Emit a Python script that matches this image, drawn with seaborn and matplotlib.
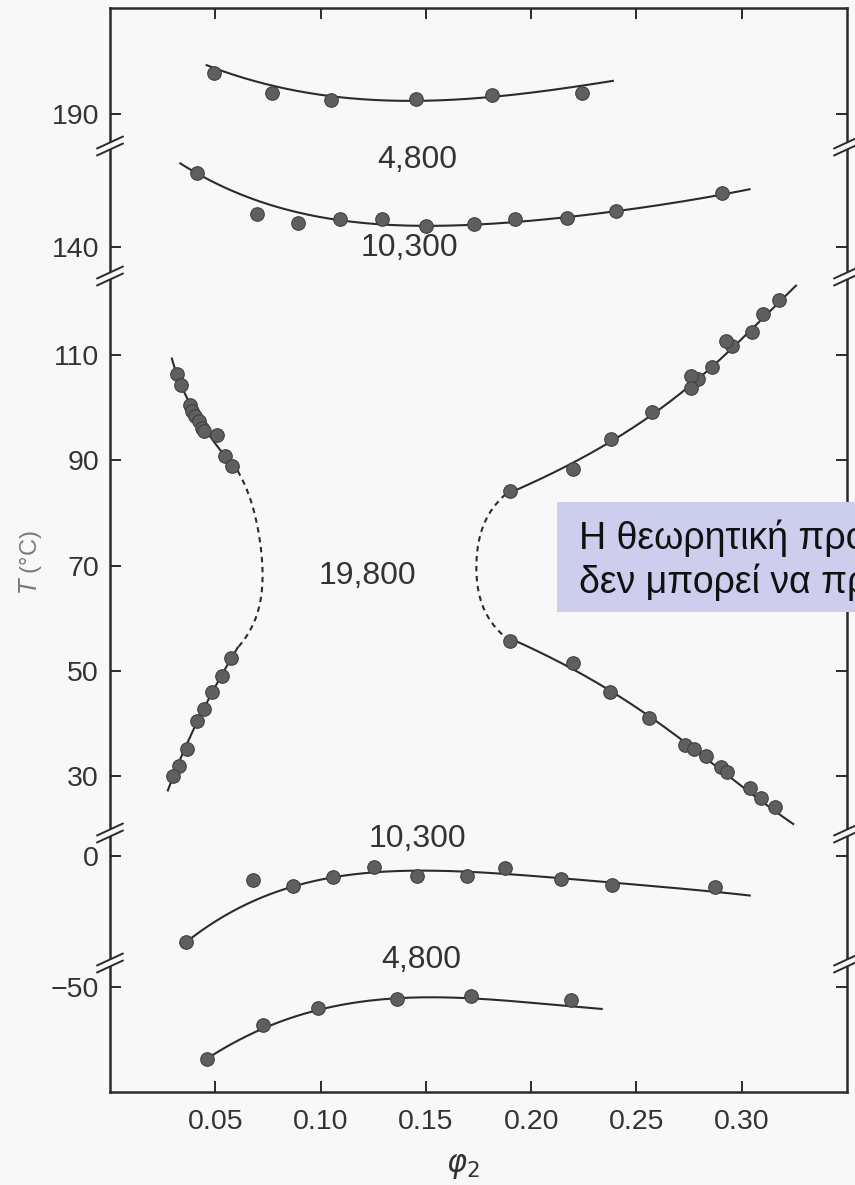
import numpy as np
import matplotlib
matplotlib.use("Agg")
import matplotlib.pyplot as plt
from matplotlib.lines import Line2D
from matplotlib.patches import Polygon, Rectangle
import seaborn as sns

# ---------------- measured cloud points: phi2 vs T (°C) ----------------
# M = 4,800 (upper critical branch)
phi_4800_hi = [0.0492, 0.0768, 0.1049, 0.1455, 0.1812, 0.2241]
T_4800_hi = [197.8, 194.0, 192.7, 192.8, 193.6, 194.0]
# M = 10,300 (upper critical branch)
phi_10300_hi = [0.0411, 0.0697, 0.0891, 0.1092, 0.1293, 0.1502, 0.1731,
                0.1921, 0.2169, 0.2403, 0.2908]
T_10300_hi = [154.0, 146.3, 144.6, 145.3, 145.3, 144.0, 144.3,
              145.3, 145.6, 146.8, 150.3]
# M = 19,800 (hourglass, left and right branches)
phi_19800_left = [0.0319, 0.0335, 0.0379, 0.0391, 0.0406, 0.0422, 0.0438,
                  0.0446, 0.0506, 0.0545, 0.0581,
                  0.0573, 0.0530, 0.0483, 0.0446, 0.0411, 0.0364, 0.0327,
                  0.0298]
T_19800_left = [106.3, 104.3, 100.5, 99.4, 98.4, 97.5, 96.2,
                95.5, 94.8, 90.9, 89.0,
                52.4, 49.0, 45.9, 42.7, 40.4, 35.1, 32.0, 30.1]
phi_19800_right = [0.3178, 0.3101, 0.3050, 0.2952, 0.2923, 0.2857, 0.2793,
                   0.2757, 0.2761, 0.2574, 0.2380, 0.2201, 0.1898,
                   0.1898, 0.2201, 0.2375, 0.2558, 0.2730, 0.2773, 0.2832,
                   0.2904, 0.2931, 0.3038, 0.3090, 0.3159]
T_19800_right = [120.4, 117.7, 114.4, 111.7, 112.7, 107.8, 105.4,
                 106.0, 103.8, 99.1, 94.1, 88.4, 84.2,
                 55.7, 51.4, 45.9, 41.0, 35.9, 35.1, 33.9,
                 31.8, 30.7, 27.7, 25.8, 24.1]
# M = 10,300 (lower critical branch)
phi_10300_lo = [0.0359, 0.0677, 0.0867, 0.1058, 0.1253, 0.1459, 0.1696,
                0.1878, 0.2141, 0.2384, 0.2873]
T_10300_lo = [-16.3, -4.5, -5.7, -3.9, -2.0, -3.8, -3.8,
              -2.3, -4.4, -5.5, -5.8]
# M = 4,800 (lower critical branch)
phi_4800_lo = [0.0463, 0.0727, 0.0986, 0.1364, 0.1716, 0.2191]
T_4800_lo = [-63.7, -57.2, -54.0, -52.3, -51.7, -52.5]

# ---------------- drawn coexistence curves (vertices of the fits) ----------------
fit_4800_hi_phi = [0.0454, 0.0768, 0.105, 0.145, 0.180, 0.2146, 0.2393]
fit_4800_hi_T = [199.4, 195.2, 193.4, 192.6, 193.2, 194.6, 196.4]
fit_10300_hi_phi = [0.0330, 0.0907, 0.120, 0.150, 0.180, 0.2146, 0.2403, 0.2908, 0.3042]
fit_10300_hi_T = [156.0, 146.4, 144.6, 144.1, 144.4, 145.45, 146.9, 150.0, 151.0]
fit_10300_lo_phi = [0.0359, 0.0589, 0.0867, 0.1058, 0.1463, 0.1701, 0.1939,
                    0.2141, 0.2336, 0.2873, 0.3043]
fit_10300_lo_T = [-16.3, -10.6, -5.8, -3.9, -2.8, -2.85, -3.6,
                  -4.4, -4.9, -6.5, -7.7]
fit_4800_lo_phi = [0.0463, 0.0727, 0.0986, 0.1364, 0.1716, 0.2191, 0.2340]
fit_4800_lo_T = [-63.7, -57.5, -54.3, -52.5, -52.0, -53.3, -54.4]

# 19,800: solid pieces follow the data, dashed pieces join them through the apex
fitL_up_T = [109.5, 104.3, 99.4, 94.8, 90.9, 87.8]
fitL_up_phi = [0.0295, 0.0335, 0.0391, 0.0480, 0.0545, 0.0608]
fitL_dash_T = [87.8, 83.6, 78.6, 73.5, 69.1, 67.2, 61.5, 57.7, 54.6]
fitL_dash_phi = [0.0608, 0.0660, 0.0692, 0.0716, 0.0724, 0.0724, 0.0708, 0.0660, 0.0613]
fitL_lo_T = [54.6, 52.4, 45.9, 40.4, 35.1, 30.1, 27.1]
fitL_lo_phi = [0.0613, 0.0573, 0.0483, 0.0411, 0.0364, 0.0298, 0.0272]

fitR_up_T = [123.3, 114.6, 105.3, 99.2, 94.0, 88.6, 84.2]
fitR_up_phi = [0.3257, 0.3050, 0.2793, 0.2574, 0.2380, 0.2201, 0.1898]
fitR_dash_T = [84.2, 79.5, 74.5, 69.5, 64.5, 60.0, 55.7]
fitR_dash_phi = [0.1898, 0.1795, 0.1752, 0.1740, 0.1752, 0.1800, 0.1898]
fitR_lo_T = [55.7, 51.4, 45.9, 41.0, 35.9, 30.7, 24.1, 20.8]
fitR_lo_phi = [0.1898, 0.2201, 0.2375, 0.2558, 0.2730, 0.2931, 0.3159, 0.3228]

# ---------------- axis layout: five stacked temperature windows ----------------
y_windows = [(183.9, 210.1), (134.5, 159.2), (19.2, 125.0), (-20.3, 4.37), (-69.9, -45.4)]
y_ticks = [[190], [140], [110, 90, 70, 50, 30], [0], [-50]]
window_px = [138, 130, 557, 130, 129]
x_ticks = [0.05, 0.10, 0.15, 0.20, 0.25, 0.30]
x_tick_labels = ["0.05", "0.10", "0.15", "0.20", "0.25", "0.30"]

BG = "#f8f8f8"
INK = "#2b2b2b"
DOT = "#5f5f5f"

sns.set_theme(style="ticks")
plt.rcParams["font.family"] = ["Liberation Sans", "DejaVu Sans"]
plt.rcParams["axes.edgecolor"] = INK
plt.rcParams["xtick.color"] = INK
plt.rcParams["ytick.color"] = INK

W, H = 855, 1185
fig = plt.figure(figsize=(W / 100, H / 100), dpi=100, facecolor=BG)
L, R, TOP, BOT = 110, 847, 8, 1092
gs = fig.add_gridspec(5, 1, height_ratios=window_px, hspace=0,
                      left=L / W, right=R / W, top=1 - TOP / H, bottom=1 - BOT / H)
axes = [fig.add_subplot(gs[i]) for i in range(5)]


def poly_curve(x, y, deg, n=300):
    c = np.polyfit(x, y, deg)
    xs = np.linspace(min(x), max(x), n)
    return xs, np.polyval(c, xs)


line_kw = dict(color=INK, lw=1.5, solid_capstyle="butt")
dash_kw = dict(color=INK, lw=1.5, ls=(0, (2.6, 2.2)))
dot_kw = dict(s=95, color=DOT, edgecolor="#3f3f3f", linewidth=0.8, zorder=3)

for i, ax in enumerate(axes):
    ax.set_facecolor("none")
    ax.set_xlim(0, 0.35)
    ax.set_ylim(*y_windows[i])
    ax.set_yticks(y_ticks[i])
    ax.set_yticklabels([f"{v}".replace("-", "\u2212") for v in y_ticks[i]])
    ax.tick_params(axis="y", direction="in", left=True, right=True, length=8,
                   width=1.4, labelsize=20.5, pad=8, labelcolor="#333333")
    ax.spines["top"].set_visible(i == 0)
    ax.spines["bottom"].set_visible(i == 4)
    for s in ax.spines.values():
        s.set_linewidth(1.8)
    ax.set_xticks(x_ticks)
    if i == 4:
        ax.set_xticklabels(x_tick_labels)
        ax.tick_params(axis="x", direction="in", bottom=True, top=False, length=8,
                       width=1.4, labelsize=20.5, pad=12, labelcolor="#333333")
    elif i == 0:
        ax.tick_params(axis="x", direction="in", bottom=False, top=True, length=8,
                       width=1.4, labelbottom=False)
    else:
        ax.tick_params(axis="x", bottom=False, top=False, labelbottom=False)
    ax.set_xlabel("")
    ax.set_ylabel("")

# upper 4,800 and 10,300
ax = axes[0]
ax.plot(*poly_curve(fit_4800_hi_phi, fit_4800_hi_T, 3), **line_kw)
sns.scatterplot(x=phi_4800_hi, y=T_4800_hi, ax=ax, **dot_kw)

ax = axes[1]
ax.plot(*poly_curve(fit_10300_hi_phi, fit_10300_hi_T, 4), **line_kw)
sns.scatterplot(x=phi_10300_hi, y=T_10300_hi, ax=ax, **dot_kw)
ax.text(0.146, 156.5, "4,800", ha="center", va="center", fontsize=23, color="#333333", clip_on=False)
ax.text(0.142, 139.8, "10,300", ha="center", va="center", fontsize=23, color="#333333", clip_on=False)

# 19,800 hourglass
ax = axes[2]
for (tv, pv, kw, d) in [(fitL_up_T, fitL_up_phi, line_kw, 2),
                        (fitL_dash_T, fitL_dash_phi, dash_kw, 4),
                        (fitL_lo_T, fitL_lo_phi, line_kw, 2),
                        (fitR_up_T, fitR_up_phi, line_kw, 3),
                        (fitR_dash_T, fitR_dash_phi, dash_kw, 4),
                        (fitR_lo_T, fitR_lo_phi, line_kw, 3)]:
    ts, ps = poly_curve(tv, pv, d)
    ax.plot(ps, ts, **kw)
sns.scatterplot(x=phi_19800_left, y=T_19800_left, ax=ax, **dot_kw)
sns.scatterplot(x=phi_19800_right, y=T_19800_right, ax=ax, **dot_kw)
ax.text(0.1223, 68.1, "19,800", ha="center", va="center", fontsize=23, color="#333333")

# lower 10,300 and 4,800
ax = axes[3]
ax.plot(*poly_curve(fit_10300_lo_phi, fit_10300_lo_T, 4), **line_kw)
sns.scatterplot(x=phi_10300_lo, y=T_10300_lo, ax=ax, **dot_kw)
ax.text(0.146, 3.2, "10,300", ha="center", va="center", fontsize=23, color="#333333", clip_on=False)

ax = axes[4]
ax.plot(*poly_curve(fit_4800_lo_phi, fit_4800_lo_T, 3), **line_kw)
sns.scatterplot(x=phi_4800_lo, y=T_4800_lo, ax=ax, **dot_kw)
ax.text(0.148, -44.9, "4,800", ha="center", va="center", fontsize=23, color="#333333", clip_on=False)

for ax in axes:
    if ax.get_legend() is not None:
        ax.get_legend().remove()


# axis-break marks ("//") on both vertical spines
def fx(px):
    return px / W


def fy(py):
    return 1 - py / H


for yb in [146, 276, 833, 963]:
    for xs in [L, R]:
        dx, rise, gap = 13, 6, 3.5
        p1 = [(xs - dx, yb + rise - gap), (xs + dx, yb - rise - gap)]
        p2 = [(xs - dx, yb + rise + gap), (xs + dx, yb - rise + gap)]
        fill = Polygon([(fx(p1[0][0]), fy(p1[0][1])), (fx(p1[1][0]), fy(p1[1][1])),
                        (fx(p2[1][0]), fy(p2[1][1])), (fx(p2[0][0]), fy(p2[0][1]))],
                       closed=True, transform=fig.transFigure, facecolor=BG,
                       edgecolor="none", zorder=10)
        fig.add_artist(fill)
        for p in (p1, p2):
            fig.add_artist(Line2D([fx(p[0][0]), fx(p[1][0])], [fy(p[0][1]), fy(p[1][1])],
                                  transform=fig.transFigure, color=INK, lw=1.4, zorder=11))

# axis titles
fig.text(fx(30), fy(562), r"$T$ (°C)", rotation=90, ha="center", va="center",
         fontsize=17, color="#7a7a7a")
fig.text(fx(463), fy(1166), r"$\varphi_2$", ha="center", va="center",
         fontsize=22, color="#333333")

# note box on the right, running past the figure edge
fig.add_artist(Rectangle((fx(557), fy(612)), fx(330), 110 / H, transform=fig.transFigure,
                         facecolor="#cdcdee", edgecolor="none", zorder=20))
fig.text(fx(579), fy(560), "Η θεωρητική προσέγγιση\nδεν μπορεί να προβλέψει",
         ha="left", va="center", fontsize=27, color="#111111", linespacing=1.22,
         zorder=21, family=["Liberation Sans", "DejaVu Sans"])

fig.savefig("out.png", dpi=100, facecolor=BG)
